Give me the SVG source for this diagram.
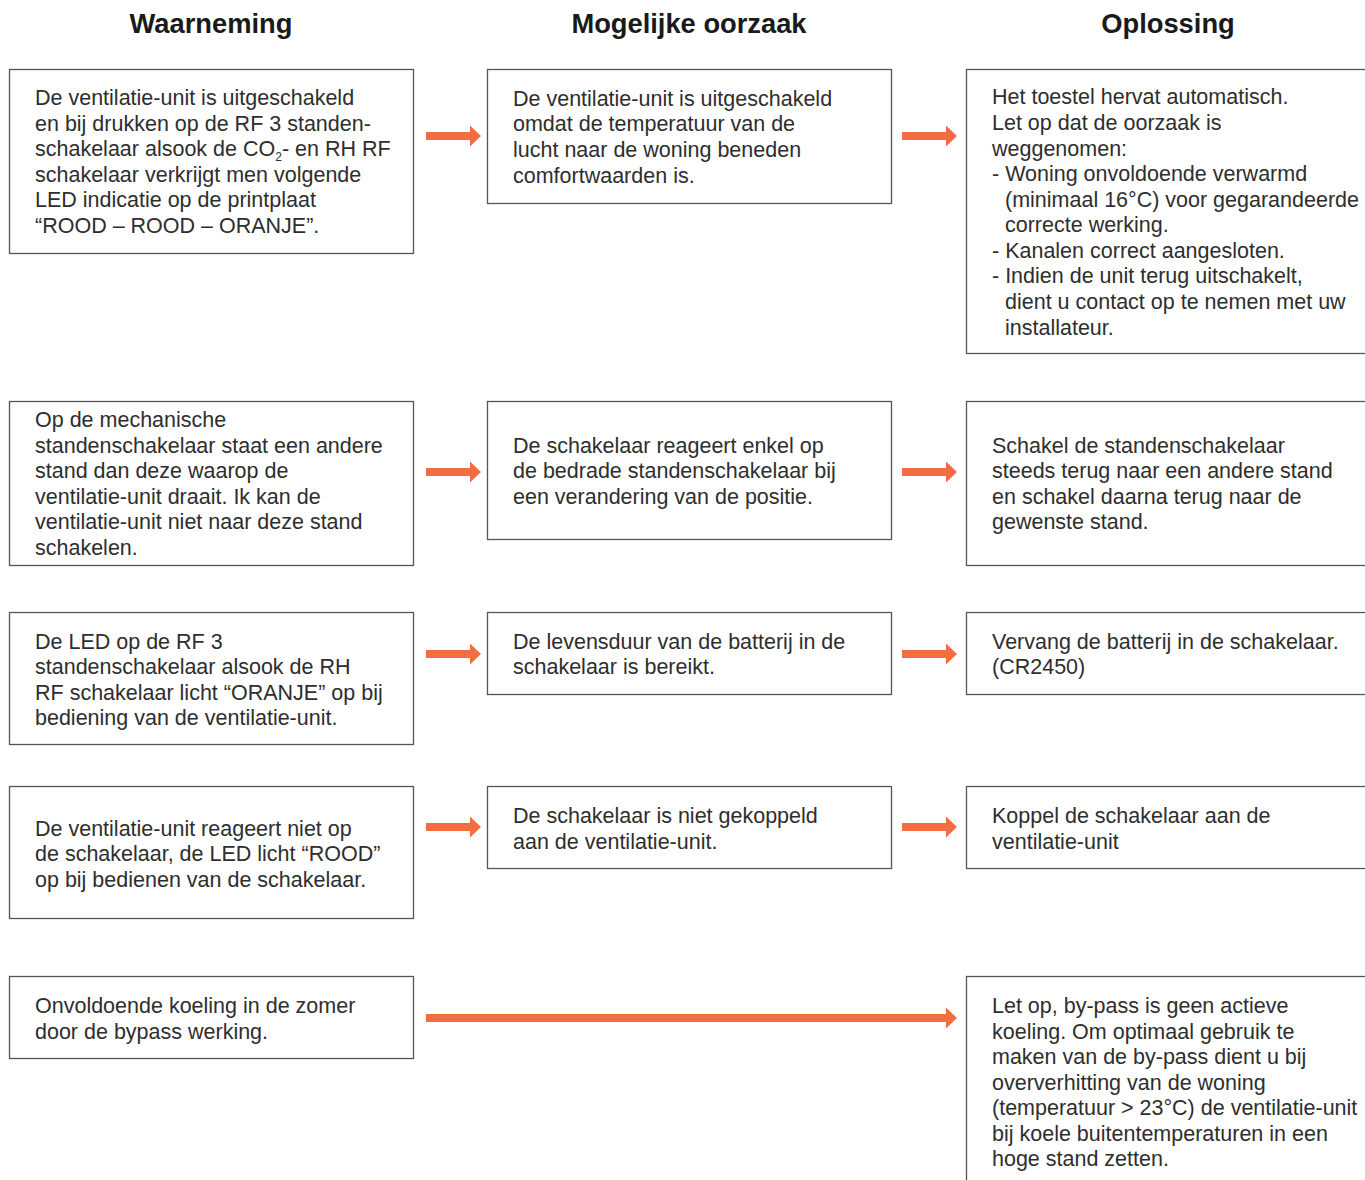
<svg xmlns="http://www.w3.org/2000/svg" width="1365" height="1180" viewBox="0 0 1365 1180">
<style>
.hd{font-family:"Liberation Sans",Arial,sans-serif;font-weight:bold;font-size:27.3px;fill:#1a1a1a;text-anchor:middle}
.t{font-family:"Liberation Sans",Arial,sans-serif;font-size:21.5px;fill:#2e2e2e;transform:translateY(1px)}
.b{fill:#fff;stroke:#555;stroke-width:1.3}
.ar{fill:#F26D3F}
</style>
<defs>
<path id="a1" d="M426,132 H470 V125.5 L481,136 L470,146.5 V140 H426 Z"/>
<path id="a2" d="M902,132 H946 V125.5 L957,136 L946,146.5 V140 H902 Z"/>
</defs>
<rect width="1365" height="1180" fill="#fff"/>
<g id="headers">
<text class="hd" x="211" y="33">Waarneming</text>
<text class="hd" x="689" y="33">Mogelijke oorzaak</text>
<text class="hd" x="1168" y="33">Oplossing</text>
</g>

<g id="connectors">
<use href="#a1" class="ar"/>
<use href="#a2" class="ar"/>
<use href="#a1" class="ar" y="336"/>
<use href="#a2" class="ar" y="336"/>
<use href="#a1" class="ar" y="518"/>
<use href="#a2" class="ar" y="518"/>
<use href="#a1" class="ar" y="691"/>
<use href="#a2" class="ar" y="691"/>
<path class="ar" d="M426,1014 H946 V1007.5 L957,1018 L946,1028.5 V1022 H426 Z"/>
</g>

<g id="r1c1">
<rect class="b" x="9.5" y="69.5" width="404" height="184"/>
<text class="t" x="35" y="104">De ventilatie-unit is uitgeschakeld</text>
<text class="t" x="35" y="130">en bij drukken op de RF 3 standen-</text>
<text class="t" x="35" y="155">schakelaar alsook de CO<tspan font-size="12" dy="5">2</tspan><tspan dy="-5">- en RH RF</tspan></text>
<text class="t" x="35" y="181">schakelaar verkrijgt men volgende</text>
<text class="t" x="35" y="206">LED indicatie op de printplaat</text>
<text class="t" x="35" y="232">“ROOD – ROOD – ORANJE”.</text>
</g>
<g id="r1c2">
<rect class="b" x="487.5" y="69.5" width="404" height="134"/>
<text class="t" x="513" y="105">De ventilatie-unit is uitgeschakeld</text>
<text class="t" x="513" y="130">omdat de temperatuur van de</text>
<text class="t" x="513" y="156">lucht naar de woning beneden</text>
<text class="t" x="513" y="182">comfortwaarden is.</text>
</g>
<g id="r1c3">
<rect class="b" x="966.5" y="69.5" width="420" height="284"/>
<text class="t" x="992" y="103">Het toestel hervat automatisch.</text>
<text class="t" x="992" y="129">Let op dat de oorzaak is</text>
<text class="t" x="992" y="155">weggenomen:</text>
<text class="t" x="992" y="180">- Woning onvoldoende verwarmd</text>
<text class="t" x="1005" y="206">(minimaal 16°C) voor gegarandeerde</text>
<text class="t" x="1005" y="231">correcte werking.</text>
<text class="t" x="992" y="257">- Kanalen correct aangesloten.</text>
<text class="t" x="992" y="282">- Indien de unit terug uitschakelt,</text>
<text class="t" x="1005" y="308">dient u contact op te nemen met uw</text>
<text class="t" x="1005" y="334">installateur.</text>
</g>

<g id="r2c1">
<rect class="b" x="9.5" y="401.5" width="404" height="164"/>
<text class="t" x="35" y="426">Op de mechanische</text>
<text class="t" x="35" y="452">standenschakelaar staat een andere</text>
<text class="t" x="35" y="477">stand dan deze waarop de</text>
<text class="t" x="35" y="503">ventilatie-unit draait. Ik kan de</text>
<text class="t" x="35" y="528">ventilatie-unit niet naar deze stand</text>
<text class="t" x="35" y="554">schakelen.</text>
</g>
<g id="r2c2">
<rect class="b" x="487.5" y="401.5" width="404" height="138"/>
<text class="t" x="513" y="452">De schakelaar reageert enkel op</text>
<text class="t" x="513" y="477">de bedrade standenschakelaar bij</text>
<text class="t" x="513" y="503">een verandering van de positie.</text>
</g>
<g id="r2c3">
<rect class="b" x="966.5" y="401.5" width="420" height="164"/>
<text class="t" x="992" y="452">Schakel de standenschakelaar</text>
<text class="t" x="992" y="477">steeds terug naar een andere stand</text>
<text class="t" x="992" y="503">en schakel daarna terug naar de</text>
<text class="t" x="992" y="528">gewenste stand.</text>
</g>

<g id="r3c1">
<rect class="b" x="9.5" y="612.5" width="404" height="132"/>
<text class="t" x="35" y="648">De LED op de RF 3</text>
<text class="t" x="35" y="673">standenschakelaar alsook de RH</text>
<text class="t" x="35" y="699">RF schakelaar licht “ORANJE” op bij</text>
<text class="t" x="35" y="724">bediening van de ventilatie-unit.</text>
</g>
<g id="r3c2">
<rect class="b" x="487.5" y="612.5" width="404" height="82"/>
<text class="t" x="513" y="648">De levensduur van de batterij in de</text>
<text class="t" x="513" y="673">schakelaar is bereikt.</text>
</g>
<g id="r3c3">
<rect class="b" x="966.5" y="612.5" width="420" height="82"/>
<text class="t" x="992" y="648">Vervang de batterij in de schakelaar.</text>
<text class="t" x="992" y="673">(CR2450)</text>
</g>

<g id="r4c1">
<rect class="b" x="9.5" y="786.5" width="404" height="132"/>
<text class="t" x="35" y="835">De ventilatie-unit reageert niet op</text>
<text class="t" x="35" y="860">de schakelaar, de LED licht “ROOD”</text>
<text class="t" x="35" y="886">op bij bedienen van de schakelaar.</text>
</g>
<g id="r4c2">
<rect class="b" x="487.5" y="786.5" width="404" height="82"/>
<text class="t" x="513" y="822">De schakelaar is niet gekoppeld</text>
<text class="t" x="513" y="848">aan de ventilatie-unit.</text>
</g>
<g id="r4c3">
<rect class="b" x="966.5" y="786.5" width="420" height="82"/>
<text class="t" x="992" y="822">Koppel de schakelaar aan de</text>
<text class="t" x="992" y="848">ventilatie-unit</text>
</g>

<g id="r5c1">
<rect class="b" x="9.5" y="976.5" width="404" height="82"/>
<text class="t" x="35" y="1012">Onvoldoende koeling in de zomer</text>
<text class="t" x="35" y="1038">door de bypass werking.</text>
</g>
<g id="r5c3">
<rect class="b" x="966.5" y="976.5" width="420" height="240"/>
<text class="t" x="992" y="1012">Let op, by-pass is geen actieve</text>
<text class="t" x="992" y="1038">koeling. Om optimaal gebruik te</text>
<text class="t" x="992" y="1063">maken van de by-pass dient u bij</text>
<text class="t" x="992" y="1089">oververhitting van de woning</text>
<text class="t" x="992" y="1114">(temperatuur &gt; 23°C) de ventilatie-unit</text>
<text class="t" x="992" y="1140">bij koele buitentemperaturen in een</text>
<text class="t" x="992" y="1165">hoge stand zetten.</text>
</g>
</svg>
